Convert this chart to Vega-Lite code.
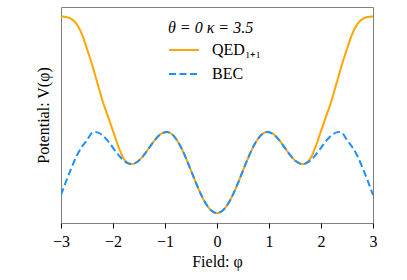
{
  "$schema": "https://vega.github.io/schema/vega-lite/v6.json",
  "autosize": "none",
  "width": 312,
  "height": 216,
  "padding": {"left": 61, "top": 7, "right": 34, "bottom": 57},
  "background": "white",
  "config": {
    "view": {"stroke": "#808080", "strokeWidth": 1},
    "font": "Liberation Serif",
    "axis": {"labelFont": "Liberation Serif", "titleFont": "Liberation Serif", "titleFontWeight": "normal", "labelColor": "black", "titleColor": "black", "grid": false},
    "legend": {"titleFontWeight": "normal"}
  },
  "data": {"values": [
    {"phi": -3.0, "V": 206.5, "series": "QED₁₊₁"},
    {"phi": -2.9, "V": 206, "series": "QED₁₊₁"},
    {"phi": -2.8, "V": 204, "series": "QED₁₊₁"},
    {"phi": -2.7, "V": 199, "series": "QED₁₊₁"},
    {"phi": -2.6, "V": 189, "series": "QED₁₊₁"},
    {"phi": -2.5, "V": 174, "series": "QED₁₊₁"},
    {"phi": -2.4, "V": 158, "series": "QED₁₊₁"},
    {"phi": -2.3, "V": 140, "series": "QED₁₊₁"},
    {"phi": -2.2, "V": 122, "series": "QED₁₊₁"},
    {"phi": -2.1, "V": 107, "series": "QED₁₊₁"},
    {"phi": -2.0, "V": 92, "series": "QED₁₊₁"},
    {"phi": -1.9, "V": 77, "series": "QED₁₊₁"},
    {"phi": -1.8, "V": 65, "series": "QED₁₊₁"},
    {"phi": -1.7, "V": 59.6, "series": "QED₁₊₁"},
    {"phi": -1.645, "V": 59, "series": "QED₁₊₁"},
    {"phi": -1.6, "V": 59.4, "series": "QED₁₊₁"},
    {"phi": -1.5, "V": 62.5, "series": "QED₁₊₁"},
    {"phi": -1.4, "V": 68.3, "series": "QED₁₊₁"},
    {"phi": -1.3, "V": 75.6, "series": "QED₁₊₁"},
    {"phi": -1.2, "V": 82.7, "series": "QED₁₊₁"},
    {"phi": -1.1, "V": 88.2, "series": "QED₁₊₁"},
    {"phi": -1.0, "V": 90.8, "series": "QED₁₊₁"},
    {"phi": -0.97, "V": 91, "series": "QED₁₊₁"},
    {"phi": -0.9, "V": 90.0, "series": "QED₁₊₁"},
    {"phi": -0.8, "V": 85.0, "series": "QED₁₊₁"},
    {"phi": -0.7, "V": 76.5, "series": "QED₁₊₁"},
    {"phi": -0.6, "V": 65.2, "series": "QED₁₊₁"},
    {"phi": -0.5, "V": 52.5, "series": "QED₁₊₁"},
    {"phi": -0.4, "V": 39.5, "series": "QED₁₊₁"},
    {"phi": -0.3, "V": 27.7, "series": "QED₁₊₁"},
    {"phi": -0.2, "V": 18.2, "series": "QED₁₊₁"},
    {"phi": -0.1, "V": 12.1, "series": "QED₁₊₁"},
    {"phi": 0.0, "V": 10, "series": "QED₁₊₁"},
    {"phi": 0.1, "V": 12.1, "series": "QED₁₊₁"},
    {"phi": 0.2, "V": 18.2, "series": "QED₁₊₁"},
    {"phi": 0.3, "V": 27.7, "series": "QED₁₊₁"},
    {"phi": 0.4, "V": 39.5, "series": "QED₁₊₁"},
    {"phi": 0.5, "V": 52.5, "series": "QED₁₊₁"},
    {"phi": 0.6, "V": 65.2, "series": "QED₁₊₁"},
    {"phi": 0.7, "V": 76.5, "series": "QED₁₊₁"},
    {"phi": 0.8, "V": 85.0, "series": "QED₁₊₁"},
    {"phi": 0.9, "V": 90.0, "series": "QED₁₊₁"},
    {"phi": 0.97, "V": 91, "series": "QED₁₊₁"},
    {"phi": 1.0, "V": 90.8, "series": "QED₁₊₁"},
    {"phi": 1.1, "V": 88.2, "series": "QED₁₊₁"},
    {"phi": 1.2, "V": 82.7, "series": "QED₁₊₁"},
    {"phi": 1.3, "V": 75.6, "series": "QED₁₊₁"},
    {"phi": 1.4, "V": 68.3, "series": "QED₁₊₁"},
    {"phi": 1.5, "V": 62.5, "series": "QED₁₊₁"},
    {"phi": 1.6, "V": 59.4, "series": "QED₁₊₁"},
    {"phi": 1.645, "V": 59, "series": "QED₁₊₁"},
    {"phi": 1.7, "V": 59.6, "series": "QED₁₊₁"},
    {"phi": 1.8, "V": 65, "series": "QED₁₊₁"},
    {"phi": 1.9, "V": 77, "series": "QED₁₊₁"},
    {"phi": 2.0, "V": 92, "series": "QED₁₊₁"},
    {"phi": 2.1, "V": 107, "series": "QED₁₊₁"},
    {"phi": 2.2, "V": 122, "series": "QED₁₊₁"},
    {"phi": 2.3, "V": 140, "series": "QED₁₊₁"},
    {"phi": 2.4, "V": 158, "series": "QED₁₊₁"},
    {"phi": 2.5, "V": 174, "series": "QED₁₊₁"},
    {"phi": 2.6, "V": 189, "series": "QED₁₊₁"},
    {"phi": 2.7, "V": 199, "series": "QED₁₊₁"},
    {"phi": 2.8, "V": 204, "series": "QED₁₊₁"},
    {"phi": 2.9, "V": 206, "series": "QED₁₊₁"},
    {"phi": 3.0, "V": 206.5, "series": "QED₁₊₁"},
    {"phi": -3.0, "V": 28, "series": "BEC"},
    {"phi": -2.9, "V": 42, "series": "BEC"},
    {"phi": -2.8, "V": 55, "series": "BEC"},
    {"phi": -2.7, "V": 67, "series": "BEC"},
    {"phi": -2.6, "V": 76, "series": "BEC"},
    {"phi": -2.5, "V": 83, "series": "BEC"},
    {"phi": -2.4, "V": 90.3, "series": "BEC"},
    {"phi": -2.35, "V": 91, "series": "BEC"},
    {"phi": -2.3, "V": 90.6, "series": "BEC"},
    {"phi": -2.2, "V": 87.6, "series": "BEC"},
    {"phi": -2.1, "V": 82.1, "series": "BEC"},
    {"phi": -2.0, "V": 75.2, "series": "BEC"},
    {"phi": -1.9, "V": 68.3, "series": "BEC"},
    {"phi": -1.8, "V": 62.7, "series": "BEC"},
    {"phi": -1.7, "V": 59.5, "series": "BEC"},
    {"phi": -1.645, "V": 59, "series": "BEC"},
    {"phi": -1.6, "V": 59.4, "series": "BEC"},
    {"phi": -1.5, "V": 62.5, "series": "BEC"},
    {"phi": -1.4, "V": 68.3, "series": "BEC"},
    {"phi": -1.3, "V": 75.6, "series": "BEC"},
    {"phi": -1.2, "V": 82.7, "series": "BEC"},
    {"phi": -1.1, "V": 88.2, "series": "BEC"},
    {"phi": -1.0, "V": 90.8, "series": "BEC"},
    {"phi": -0.97, "V": 91, "series": "BEC"},
    {"phi": -0.9, "V": 90.0, "series": "BEC"},
    {"phi": -0.8, "V": 85.0, "series": "BEC"},
    {"phi": -0.7, "V": 76.5, "series": "BEC"},
    {"phi": -0.6, "V": 65.2, "series": "BEC"},
    {"phi": -0.5, "V": 52.5, "series": "BEC"},
    {"phi": -0.4, "V": 39.5, "series": "BEC"},
    {"phi": -0.3, "V": 27.7, "series": "BEC"},
    {"phi": -0.2, "V": 18.2, "series": "BEC"},
    {"phi": -0.1, "V": 12.1, "series": "BEC"},
    {"phi": 0.0, "V": 10, "series": "BEC"},
    {"phi": 0.1, "V": 12.1, "series": "BEC"},
    {"phi": 0.2, "V": 18.2, "series": "BEC"},
    {"phi": 0.3, "V": 27.7, "series": "BEC"},
    {"phi": 0.4, "V": 39.5, "series": "BEC"},
    {"phi": 0.5, "V": 52.5, "series": "BEC"},
    {"phi": 0.6, "V": 65.2, "series": "BEC"},
    {"phi": 0.7, "V": 76.5, "series": "BEC"},
    {"phi": 0.8, "V": 85.0, "series": "BEC"},
    {"phi": 0.9, "V": 90.0, "series": "BEC"},
    {"phi": 0.97, "V": 91, "series": "BEC"},
    {"phi": 1.0, "V": 90.8, "series": "BEC"},
    {"phi": 1.1, "V": 88.2, "series": "BEC"},
    {"phi": 1.2, "V": 82.7, "series": "BEC"},
    {"phi": 1.3, "V": 75.6, "series": "BEC"},
    {"phi": 1.4, "V": 68.3, "series": "BEC"},
    {"phi": 1.5, "V": 62.5, "series": "BEC"},
    {"phi": 1.6, "V": 59.4, "series": "BEC"},
    {"phi": 1.645, "V": 59, "series": "BEC"},
    {"phi": 1.7, "V": 59.5, "series": "BEC"},
    {"phi": 1.8, "V": 62.7, "series": "BEC"},
    {"phi": 1.9, "V": 68.3, "series": "BEC"},
    {"phi": 2.0, "V": 75.2, "series": "BEC"},
    {"phi": 2.1, "V": 82.1, "series": "BEC"},
    {"phi": 2.2, "V": 87.6, "series": "BEC"},
    {"phi": 2.3, "V": 90.6, "series": "BEC"},
    {"phi": 2.35, "V": 91, "series": "BEC"},
    {"phi": 2.4, "V": 90.3, "series": "BEC"},
    {"phi": 2.5, "V": 83, "series": "BEC"},
    {"phi": 2.6, "V": 76, "series": "BEC"},
    {"phi": 2.7, "V": 67, "series": "BEC"},
    {"phi": 2.8, "V": 55, "series": "BEC"},
    {"phi": 2.9, "V": 42, "series": "BEC"},
    {"phi": 3.0, "V": 28, "series": "BEC"}
  ]},
  "mark": {"type": "line", "strokeWidth": 2, "interpolate": "monotone", "clip": true},
  "encoding": {
    "x": {
      "field": "phi", "type": "quantitative",
      "scale": {"domain": [-3, 3], "nice": false, "zero": false},
      "axis": {"values": [-3, -2, -1, 0, 1, 2, 3], "title": "Field: φ", "titleFont": "Liberation Serif", "labelFont": "Liberation Serif", "titleFontWeight": "normal", "titleFontSize": 16, "labelFontSize": 16, "tickColor": "black", "tickSize": 5, "tickWidth": 1, "domain": false, "labelPadding": 5, "titlePadding": 4, "labelFlush": false}
    },
    "y": {
      "field": "V", "type": "quantitative",
      "scale": {"domain": [0, 216], "nice": false, "zero": false},
      "axis": {"title": "Potential: V(φ)", "titleFont": "Liberation Serif", "titleFontWeight": "normal", "titleFontSize": 16, "labels": false, "ticks": false, "domain": false, "titlePadding": 10}
    },
    "color": {
      "field": "series", "type": "nominal",
      "scale": {"domain": ["QED₁₊₁", "BEC"], "range": ["#FFA500", "#1E90FF"]},
      "legend": {
        "title": "θ = 0 κ = 3.5",
        "orient": "none", "legendX": 107, "legendY": 13,
        "titleFont": "Liberation Serif", "titleFontSize": 16, "titleFontWeight": "normal", "titleFontStyle": "italic", "titleColor": "black", "titlePadding": -2,
        "labelFont": "Liberation Serif", "labelFontSize": 16, "labelColor": "black", "labelOffset": 12,
        "symbolType": "stroke", "symbolSize": 900, "symbolStrokeWidth": 2, "rowPadding": -4
      }
    },
    "strokeDash": {
      "field": "series", "type": "nominal",
      "scale": {"domain": ["QED₁₊₁", "BEC"], "range": [[1, 0], [7, 3.5]]},
      "legend": null
    }
  }
}
